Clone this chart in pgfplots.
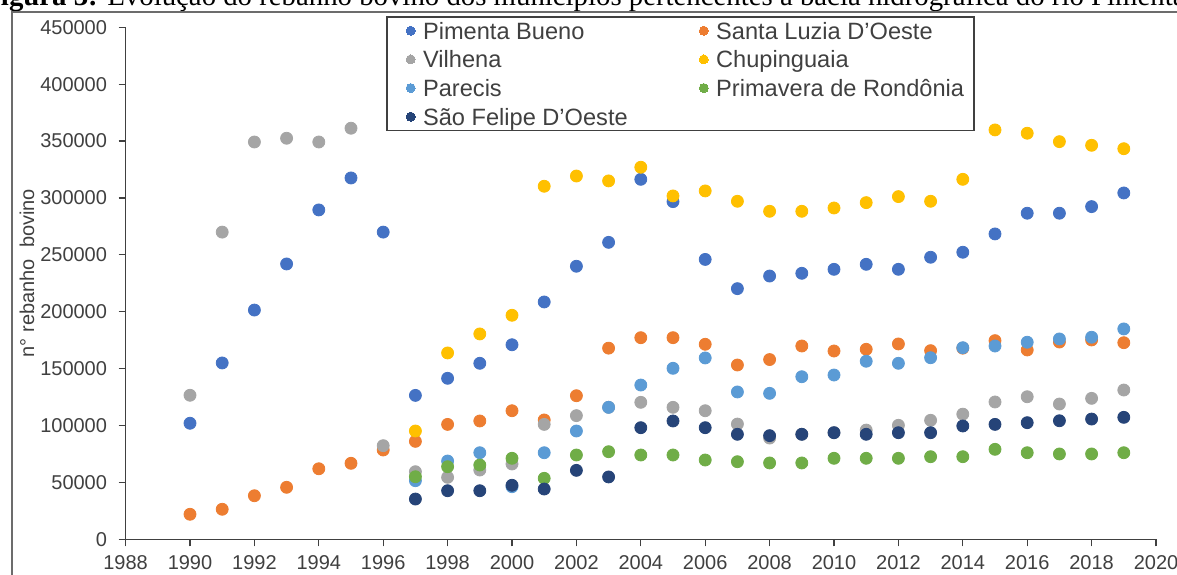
\documentclass[border=0pt]{standalone}
\usepackage{fontspec}
\setmainfont{Liberation Sans}
\newfontfamily\serifcap{Liberation Serif}
\usepackage{pgfplots}
\pgfplotsset{compat=1.18}
\definecolor{pb}{HTML}{4472C4}
\definecolor{sl}{HTML}{ED7D31}
\definecolor{vi}{HTML}{A5A5A5}
\definecolor{ch}{HTML}{FFC000}
\definecolor{pa}{HTML}{5B9BD5}
\definecolor{pr}{HTML}{70AD47}
\definecolor{sf}{HTML}{264478}
\definecolor{txt}{HTML}{404040}
\definecolor{axc}{HTML}{404040}
\begin{document}
\begin{tikzpicture}
% caption (cut off at top)
\node[anchor=base west, inner sep=0pt, font=\serifcap\fontsize{14.4}{16}\selectfont] at (-8.5pt,284pt) {\textbf{Figura 3:} Evolução do rebanho bovino dos municípios pertencentes à bacia hidrográfica do rio Pimenta Bueno};
\fill[white] (-5pt,281pt) rectangle (600pt,-5pt);
\draw[color=gray!85!black, line width=0.7pt] (6pt,-10pt) -- (6pt,281pt) -- (600pt,281pt);
\begin{axis}[
  at={(62.8pt,17.35pt)}, anchor=south west,
  scale only axis, width=515.2pt, height=256pt,
  xmin=1988, xmax=2020, ymin=0, ymax=450000,
  xtick={1988,1990,...,2020},
  ytick={0,50000,...,450000},
  scaled y ticks=false,
  axis lines=left,
  axis line style={-, color=axc, line width=0.7pt},
  tick align=outside,
  major tick length=3.5pt,
  tick style={color=axc, line width=0.6pt},
  /pgf/number format/fixed,
  /pgf/number format/precision=0,
  /pgf/number format/1000 sep={},
  /pgf/number format/assume math mode=true,
  ticklabel style={font=\fontsize{10}{12}\selectfont, text=txt, inner sep=0pt},
  yticklabel style={anchor=east, xshift=-5.6pt},
  xticklabel style={anchor=north, yshift=-4.6pt},
  ylabel={n° rebanho\ \ bovino},
  every axis y label/.style={at={(rel axis cs:-0.0957,0.520)}, rotate=90, anchor=center, font=\fontsize{10}{12}\selectfont, text=txt},
  clip=false,
  legend columns=2,
  legend cell align=left,
  legend style={at={(rel axis cs:0.2537,1.0201)}, anchor=north west,
    draw=axc, line width=0.7pt, fill=white, outer sep=0pt,
    inner xsep=2pt, inner ysep=0.85pt,
    column sep=0pt, row sep=2.33pt,
    font=\fontsize{11.8}{13}\selectfont, text=txt,
    nodes={inner xsep=0pt, inner ysep=0pt, text height=10.2pt, text depth=1.8pt, anchor=west}},
  legend image code/.code={\path (-9.5pt,0pt) (5.85pt,0pt); \draw[#1, mark size=2.25pt, line width=0pt] plot coordinates {(0pt,0pt)};},
  every axis plot/.append style={only marks, mark=*, mark size=3pt, mark options={draw=none}},
]
\addplot[color=pb] coordinates {(1990,102000)(1991,155000)(1992,201500)(1993,242000)(1994,289500)(1995,317600)(1996,270000)(1997,126500)(1998,141500)(1999,154700)(2000,171000)(2001,208600)(2002,240000)(2003,261000)(2004,316400)(2005,296800)(2006,246000)(2007,220300)(2008,231400)(2009,233800)(2010,237300)(2011,241700)(2012,237300)(2013,247900)(2014,252300)(2015,268400)(2016,286600)(2017,286600)(2018,292400)(2019,304400)};
\addlegendentry{\makebox[130.5pt][l]{Pimenta Bueno}}
\addplot[color=sl] coordinates {(1990,22000)(1991,26400)(1992,38300)(1993,45700)(1994,62000)(1995,66800)(1996,78500)(1997,86100)(1998,101000)(1999,104000)(2000,113000)(2001,104900)(2002,126200)(2003,168000)(2004,177200)(2005,177200)(2006,171400)(2007,153200)(2008,158000)(2009,169900)(2010,165500)(2011,167000)(2012,171700)(2013,165800)(2014,168000)(2015,174600)(2016,166400)(2017,173400)(2018,175200)(2019,172800)};
\addlegendentry{\makebox[126.8pt][l]{Santa Luzia D'Oeste}}
\addplot[color=vi] coordinates {(1990,126600)(1991,270000)(1992,349200)(1993,352500)(1994,349200)(1995,361300)(1996,82300)(1997,59400)(1998,54500)(1999,60900)(2000,66200)(2001,101000)(2002,108700)(2003,116000)(2004,120400)(2005,116000)(2006,113000)(2007,101300)(2008,89000)(2009,92300)(2010,93700)(2011,96000)(2012,100200)(2013,104600)(2014,110000)(2015,120700)(2016,125300)(2017,118900)(2018,123900)(2019,131200)};
\addlegendentry{\makebox[130.5pt][l]{Vilhena}}
\addplot[color=ch] coordinates {(1997,95200)(1998,163800)(1999,180500)(2000,196900)(2001,310300)(2002,319300)(2003,315000)(2004,327000)(2005,301800)(2006,306200)(2007,297100)(2008,288300)(2009,288300)(2010,291200)(2011,295900)(2012,301200)(2013,297100)(2014,316400)(2015,359800)(2016,356900)(2017,349500)(2018,346300)(2019,343300)};
\addlegendentry{\makebox[126.8pt][l]{Chupinguaia}}
\addplot[color=pa] coordinates {(1997,51500)(1998,68800)(1999,76100)(2000,46200)(2001,76100)(2002,95200)(2003,116000)(2004,135600)(2005,150300)(2006,159400)(2007,129500)(2008,128300)(2009,142900)(2010,144400)(2011,156500)(2012,154700)(2013,159600)(2014,168400)(2015,169900)(2016,173200)(2017,176100)(2018,177600)(2019,184900)};
\addlegendentry{\makebox[130.5pt][l]{Parecis}}
\addplot[color=pr] coordinates {(1997,55000)(1998,63800)(1999,65300)(2000,71200)(2001,53600)(2002,74100)(2003,77000)(2004,74100)(2005,74100)(2006,69700)(2007,68200)(2008,67100)(2009,67100)(2010,71200)(2011,71200)(2012,71200)(2013,72600)(2014,72600)(2015,79100)(2016,76100)(2017,75000)(2018,75000)(2019,76100)};
\addlegendentry{\makebox[126.8pt][l]{Primavera de Rondônia}}
\addplot[color=sf] coordinates {(1997,35400)(1998,42700)(1999,42700)(2000,47500)(2001,44200)(2002,60600)(2003,54800)(2004,98100)(2005,104000)(2006,98100)(2007,92300)(2008,91100)(2009,92300)(2010,93700)(2011,92300)(2012,93700)(2013,93700)(2014,99600)(2015,101000)(2016,102500)(2017,104200)(2018,105700)(2019,107200)};
\addlegendentry{\makebox[130.5pt][l]{São Felipe D'Oeste}}
\end{axis}
\pgfresetboundingbox
\useasboundingbox (0pt,0pt) rectangle (588.5pt,287pt);
\end{tikzpicture}
\end{document}
